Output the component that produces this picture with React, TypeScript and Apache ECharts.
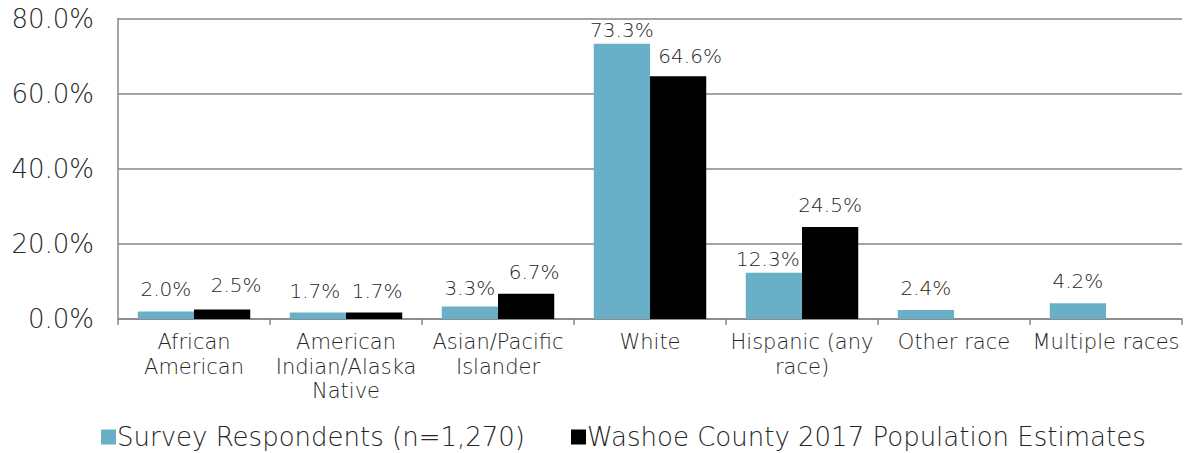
import React, { useEffect, useRef } from "react";
import * as echarts from "echarts";

const categories = [
  "African\nAmerican",
  "American\nIndian/Alaska\nNative",
  "Asian/Pacific\nIslander",
  "White",
  "Hispanic (any\nrace)",
  "Other race",
  "Multiple races",
];
const surveyValues: (number | null)[] = [2.0, 1.7, 3.3, 73.3, 12.3, 2.4, 4.2];
const washoeValues: (number | null)[] = [2.5, 1.7, 6.7, 64.6, 24.5, null, null];
const seriesNames = ["Survey Respondents (n=1,270)", "Washoe County 2017 Population Estimates"];
const yTicks = { min: 0, max: 80, interval: 20 };

const FONT = "DejaVu Sans";
const W = 200;
const TXT = "#262626";

// label nudges (style only), [dx, dy] per category index
const surveyLabelShift: [number, number][] = [[0, 0], [-3, 0], [0, 3], [0, 8], [-6, 8], [0, 0], [0, 0]];
const washoeLabelShift: [number, number][] = [[14, -3], [3, 0], [8, 0], [12, 2], [0, 0], [0, 0], [0, 0]];

export default function App() {
  const ref = useRef<HTMLDivElement>(null);
  useEffect(() => {
    if (!ref.current) return;
    const chart = echarts.init(ref.current, undefined, { renderer: "svg" });
    const baseLabel = {
      show: true,
      position: "top" as const,
      distance: 12,
      fontFamily: FONT,
      fontWeight: W,
      fontSize: 20,
      color: TXT,
      formatter: (p: any) => (p.value == null ? "" : Number(p.value).toFixed(1) + "%"),
    };
    const mk = (vals: (number | null)[], shifts: [number, number][]) =>
      vals.map((v, i) => ({ value: v, label: { ...baseLabel, offset: shifts[i] } }));
    chart.setOption({
      animation: false,
      textStyle: { fontFamily: FONT },
      grid: { left: 118, right: 8, top: 18.5, bottom: 134, containLabel: false },
      legend: {
        top: 424,
        left: 101,
        padding: 0,
        itemWidth: 15,
        itemHeight: 15,
        itemGap: 46,
        icon: "rect",
        textStyle: {
          fontFamily: FONT,
          fontWeight: W,
          fontSize: 26,
          lineHeight: 26,
          color: TXT,
          padding: [0, 0, 0, -4],
        },
        data: seriesNames,
      },
      xAxis: {
        type: "category",
        data: categories,
        axisLine: { lineStyle: { color: "#868686", width: 1.5 } },
        axisTick: { show: true, alignWithLabel: false, length: 6, lineStyle: { color: "#868686", width: 1.5 } },
        axisLabel: {
          interval: 0,
          fontFamily: FONT,
          fontWeight: W,
          fontSize: 21,
          lineHeight: 24.5,
          color: TXT,
          margin: 11,
        },
      },
      yAxis: {
        type: "value",
        min: yTicks.min,
        max: yTicks.max,
        interval: yTicks.interval,
        axisLine: { show: true, lineStyle: { color: "#868686", width: 1.5 } },
        axisTick: { show: false },
        splitLine: { lineStyle: { color: "#868686", width: 1.5 } },
        axisLabel: {
          fontFamily: FONT,
          fontWeight: W,
          fontSize: 26,
          color: TXT,
          margin: 24,
          formatter: (v: number) => v.toFixed(1) + "%",
        },
      },
      series: [
        {
          name: seriesNames[0],
          type: "bar",
          data: mk(surveyValues, surveyLabelShift),
          barGap: "0%",
          barCategoryGap: "26%",
          itemStyle: { color: "#6AAFC8" },
          label: baseLabel,
        },
        {
          name: seriesNames[1],
          type: "bar",
          data: mk(washoeValues, washoeLabelShift),
          barGap: "0%",
          barCategoryGap: "26%",
          itemStyle: { color: "#000000" },
          label: baseLabel,
        },
      ],
    });
    return () => chart.dispose();
  }, []);
  return (
    <div
      ref={ref}
      style={{ position: "fixed", left: 0, top: 0, width: 1190, height: 453, background: "#fff" }}
    />
  );
}
